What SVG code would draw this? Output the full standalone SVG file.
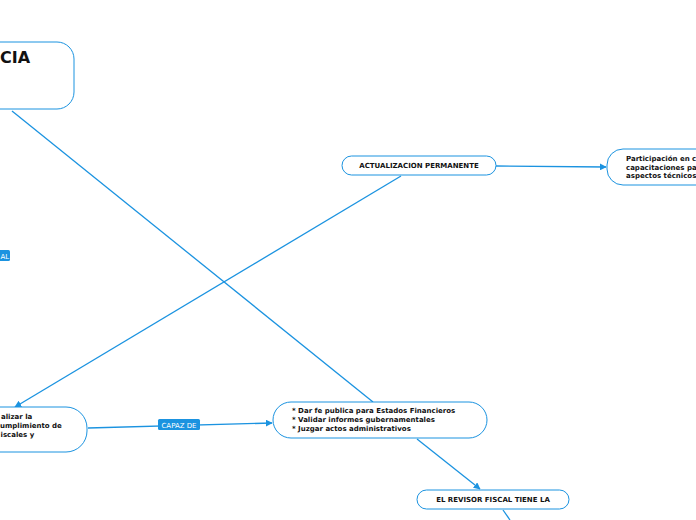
<svg xmlns="http://www.w3.org/2000/svg" width="696" height="520" viewBox="0 0 696 520">
<defs>
<marker id="arr" viewBox="0 0 10 10" refX="9" refY="5" markerWidth="7" markerHeight="7" markerUnits="userSpaceOnUse" orient="auto"><path d="M0,0 L10,5 L0,10 z" fill="#1b93e0"/></marker>
<style>
.n{fill:#fff;stroke:#1b93e0;stroke-width:1}
.t{font-family:"DejaVu Sans",Verdana,sans-serif;font-weight:bold;font-size:7px;fill:#111}
.c{fill:none;stroke:#1b93e0;stroke-width:1.3}
.lb{fill:#1b93e0}
.lt{font-family:"DejaVu Sans",Verdana,sans-serif;font-size:7px;fill:#fff}
</style>
</defs>
<rect width="696" height="520" fill="#fff"/>
<g id="connectors">
<line class="c" x1="12" y1="111" x2="373" y2="402"/>
<line class="c" x1="401" y1="176" x2="15" y2="407" marker-end="url(#arr)"/>
<line class="c" x1="496" y1="166" x2="606" y2="167" marker-end="url(#arr)"/>
<line class="c" x1="88" y1="428" x2="272" y2="423" marker-end="url(#arr)"/>
<line class="c" x1="417" y1="439" x2="480" y2="489" marker-end="url(#arr)"/>
<line class="c" x1="503" y1="510" x2="510" y2="520"/>
<g id="label-capaz"><rect class="lb" x="158" y="419" width="42" height="11" rx="1.5"/><text class="lt" x="179" y="427.5" text-anchor="middle">CAPAZ DE</text></g>
<g id="label-al"><rect class="lb" x="-10" y="250" width="20" height="11" rx="1.5"/><text class="lt" x="0.5" y="258.5" text-anchor="start">AL</text></g>
</g>
<g id="node-top"><rect class="n" x="-40" y="42" width="114" height="67" rx="17"/><text class="t" x="0" y="63" style="font-size:16px">CIA</text></g>
<g id="node-actualizacion"><rect class="n" x="342" y="156" width="154" height="19" rx="9.5"/><text class="t" x="419" y="168" text-anchor="middle">ACTUALIZACION PERMANENTE</text></g>
<g id="node-participacion"><rect class="n" x="607" y="149" width="120" height="36" rx="16"/><text class="t" x="626" y="161">Participación en c</text><text class="t" x="626" y="170">capacitaciones pa</text><text class="t" x="626" y="178">aspectos técnicos</text></g>
<g id="node-fiscalizar"><rect class="n" x="-60" y="407" width="147" height="45" rx="21"/><text class="t" x="1" y="419">alizar la</text><text class="t" x="0" y="428">umplimiento de</text><text class="t" x="0.5" y="437">iscales y</text></g>
<g id="node-funciones"><rect class="n" x="273" y="402" width="214" height="36" rx="18"/><text class="t" x="292" y="413">* Dar fe publica para Estados Financieros</text><text class="t" x="292" y="422">* Validar  informes gubernamentales</text><text class="t" x="292" y="431">* Juzgar actos administrativos</text></g>
<g id="node-revisor"><rect class="n" x="417" y="490" width="152" height="19" rx="9.5"/><text class="t" x="493" y="502" text-anchor="middle">EL REVISOR FISCAL TIENE LA</text></g>
</svg>
